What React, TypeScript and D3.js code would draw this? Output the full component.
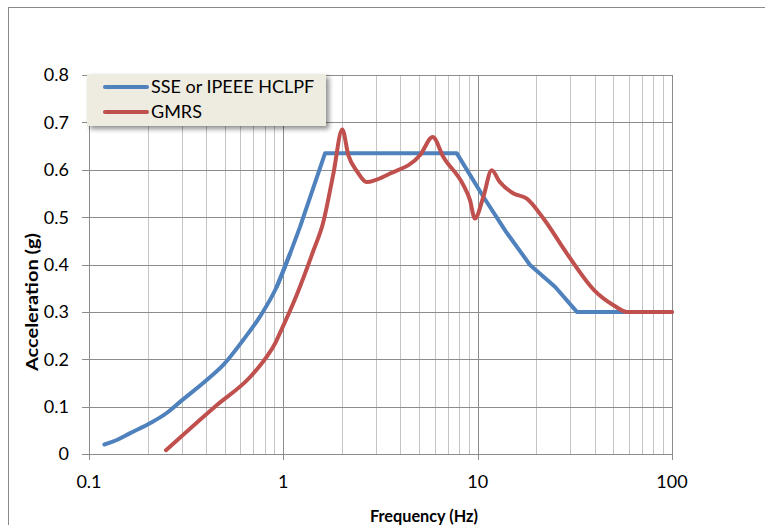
import React from "react";
import * as d3 from "d3";

const sseFreq = [0.12, 0.14, 0.163, 0.206, 0.25, 0.294, 0.395, 0.491, 0.62, 0.758, 0.925, 1.083, 1.22, 1.64, 7.8, 10.7, 14, 18.6, 25, 32.4, 100];
const sseAcc = [0.02, 0.03, 0.044, 0.065, 0.086, 0.11, 0.153, 0.188, 0.24, 0.29, 0.353, 0.423, 0.48, 0.635, 0.635, 0.543, 0.469, 0.399, 0.353, 0.3, 0.3];

const gmrsFreq = [0.249, 0.454, 0.673, 0.82, 0.906, 0.96, 1.17, 1.43, 1.6, 1.81, 2.01, 2.16, 2.4, 2.68, 3.54, 5.06, 5.87, 6.66, 8.43, 9.13, 9.67, 10.7, 11.8, 13.0, 15.3, 17.9, 21.8, 28.8, 39.7, 50, 58.6, 100];
const gmrsAcc = [0.008, 0.103, 0.162, 0.205, 0.233, 0.255, 0.335, 0.43, 0.487, 0.592, 0.685, 0.631, 0.596, 0.574, 0.592, 0.631, 0.669, 0.627, 0.568, 0.536, 0.497, 0.543, 0.599, 0.574, 0.55, 0.539, 0.497, 0.423, 0.346, 0.314, 0.3, 0.3];

const xTickLabels = ["0.1", "1", "10", "100"];
const yTicks = [0, 0.1, 0.2, 0.3, 0.4, 0.5, 0.6, 0.7, 0.8];
const seriesNames = ["SSE or IPEEE HCLPF", "GMRS"];
const seriesColors = ["#4F81BD", "#C0504D"];

const FONT = "Lato, 'Liberation Sans', sans-serif";

export default function App() {
  const left = 89, right = 672, top = 75, bottom = 454;
  const x = d3.scaleLog().domain([0.1, 100]).range([left, right]);
  const y = d3.scaleLinear().domain([0, 0.8]).range([bottom, top]);

  const minor: number[] = [];
  [0.1, 1, 10].forEach((d) => {
    for (let k = 2; k <= 9; k++) minor.push(d * k);
  });
  const major = [0.1, 1, 10, 100];

  const sse = sseFreq.map((f, i) => [f, sseAcc[i]] as [number, number]);
  const gmrs = gmrsFreq.map((f, i) => [f, gmrsAcc[i]] as [number, number]);
  const sseLow = sse.filter((d) => d[0] <= 1.083);
  const sseHigh = sse.filter((d) => d[0] >= 0.925);

  const lineLin = d3.line<[number, number]>().x((d) => x(d[0])).y((d) => y(d[1])).curve(d3.curveLinear);
  const lineSmooth = d3.line<[number, number]>().x((d) => x(d[0])).y((d) => y(d[1])).curve(d3.curveMonotoneX);

  return (
    <svg width={765} height={525} style={{ position: "absolute", left: 0, top: 0 }} fontFamily={FONT}>
      <defs>
        <filter id="shadow" x="-10%" y="-20%" width="130%" height="160%">
          <feGaussianBlur in="SourceAlpha" stdDeviation="2.5" />
          <feOffset dx="3" dy="3" result="b" />
          <feComponentTransfer>
            <feFuncA type="linear" slope="0.45" />
          </feComponentTransfer>
          <feMerge>
            <feMergeNode />
            <feMergeNode in="SourceGraphic" />
          </feMerge>
        </filter>
      </defs>
      <rect x={0} y={0} width={765} height={525} fill="#fff" />
      <rect x={8.5} y={7.5} width={800} height={600} fill="#fff" stroke="#8a8a8a" strokeWidth={1} />

      {minor.map((f) => (
        <line key={"m" + f} x1={Math.round(x(f)) + 0.5} x2={Math.round(x(f)) + 0.5} y1={top} y2={bottom} stroke="#c4c4c4" strokeWidth={1} />
      ))}
      {yTicks.map((v) => (
        <line key={"h" + v} x1={left - 7} x2={right} y1={Math.round(y(v)) + 0.5} y2={Math.round(y(v)) + 0.5} stroke="#8c8c8c" strokeWidth={1} />
      ))}
      {major.map((f) => (
        <line key={"M" + f} x1={Math.round(x(f)) + 0.5} x2={Math.round(x(f)) + 0.5} y1={top} y2={bottom + 6} stroke="#8c8c8c" strokeWidth={1} />
      ))}

      {yTicks.map((v) => (
        <text key={"yl" + v} x={69} y={y(v)} dy="0.36em" textAnchor="end" fontSize={18} fill="#000">
          {String(+v.toFixed(1))}
        </text>
      ))}
      {major.map((f, i) => (
        <text key={"xl" + f} x={x(f)} y={488} textAnchor="middle" fontSize={18} fill="#000">
          {xTickLabels[i]}
        </text>
      ))}

      <path d={lineSmooth(sseLow) || ""} fill="none" stroke={seriesColors[0]} strokeWidth={4} strokeLinejoin="round" strokeLinecap="round" />
      <path d={lineLin(sseHigh) || ""} fill="none" stroke={seriesColors[0]} strokeWidth={4} strokeLinejoin="round" strokeLinecap="round" />
      <path d={lineSmooth(gmrs) || ""} fill="none" stroke={seriesColors[1]} strokeWidth={4} strokeLinejoin="round" strokeLinecap="round" />

      <text x={424} y={522} textAnchor="middle" fontSize={17} fontWeight="bold" fill="#000" textLength={108} lengthAdjust="spacingAndGlyphs">
        Frequency (Hz)
      </text>
      <text transform={`translate(38,302) rotate(-90)`} textAnchor="middle" fontSize={17} fontWeight="bold" fill="#000" textLength={138} lengthAdjust="spacingAndGlyphs">
        Acceleration (g)
      </text>

      <g>
        <rect x={87} y={74} width={239} height={52} fill="#EEECE1" filter="url(#shadow)" />
        {seriesNames.map((n, i) => (
          <g key={n}>
            <line x1={105} x2={147} y1={87 + i * 25} y2={87 + i * 25} stroke={seriesColors[i]} strokeWidth={4} strokeLinecap="round" />
            <text x={151} y={87 + i * 25} dy="0.36em" fontSize={18} fill="#000">
              {n}
            </text>
          </g>
        ))}
      </g>
    </svg>
  );
}
